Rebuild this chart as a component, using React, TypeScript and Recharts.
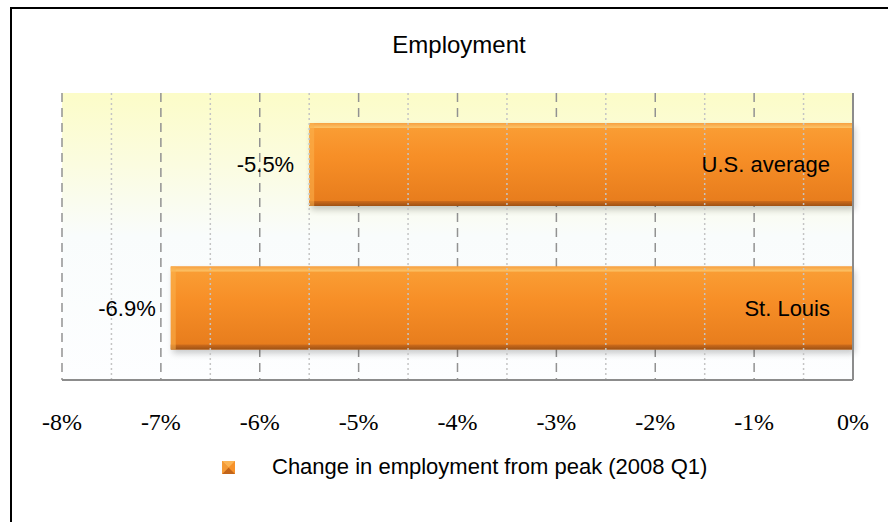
import {
  BarChart,
  Bar,
  XAxis,
  YAxis,
  CartesianGrid,
  ReferenceLine,
  LabelList,
  Legend,
} from "recharts";

const regions = ["U.S. average", "St. Louis"];
const changeFromPeak = [-5.5, -6.9];
const xTicks = [-8, -7, -6, -5, -4, -3, -2, -1, 0];
const minorTicks = [-7.5, -6.5, -5.5, -4.5, -3.5, -2.5, -1.5, -0.5];
const seriesName = "Change in employment from peak (2008 Q1)";

const data = regions.map((name, i) => ({ name, value: changeFromPeak[i] }));

const sans = "'Liberation Sans', Arial, sans-serif";
const serif = "'Liberation Serif', 'Times New Roman', serif";

// bar with a simple bevel + soft shadow, like the Excel style
const BevelBar = (props: any) => {
  const { x, y, width, height } = props;
  const left = Math.min(x, x + width);
  const w = Math.abs(width);
  return (
    <g>
      <rect x={left + 2} y={y + 4} width={w} height={height} fill="#000" opacity={0.2} filter="url(#blur)" />
      <rect x={left} y={y} width={w} height={height} fill="url(#barFill)" />
      <rect x={left} y={y} width={w} height={5} fill="url(#barTop)" />
      <rect x={left} y={y + height - 5} width={w} height={5} fill="url(#barBottom)" />
      <rect x={left} y={y} width={5} height={height} fill="#fbb24f" opacity={0.55} />
    </g>
  );
};

const ValueLabel = (props: any) => {
  const { x, y, width, height, value } = props;
  const left = Math.min(x, x + width);
  return (
    <text x={left - 15} y={y + height / 2} textAnchor="end" dominantBaseline="central" fontSize={22} fontFamily={sans} fill="#000">
      {`${Number(value).toFixed(1)}%`}
    </text>
  );
};

const NameLabel = (props: any) => {
  const { x, y, width, height, value } = props;
  const right = Math.max(x, x + width);
  return (
    <text x={right - 23} y={y + height / 2} textAnchor="end" dominantBaseline="central" fontSize={22} fontFamily={sans} fill="#000">
      {value}
    </text>
  );
};

const LegendBox = () => (
  <div style={{ position: "relative", width: 888, height: 74 }}>
    <svg width={13} height={13} style={{ position: "absolute", left: 222, top: 31 }}>
      <rect x={0} y={0} width={13} height={13} fill="#f7922a" />
      <polygon points="0,0 13,0 6.5,6.5" fill="#fbb455" />
      <polygon points="0,13 13,13 6.5,6.5" fill="#c2651a" />
      <polygon points="0,0 0,13 6.5,6.5" fill="#f39a36" />
    </svg>
    <span
      style={{
        position: "absolute",
        left: 272,
        top: 24,
        fontFamily: sans,
        fontSize: 22,
        lineHeight: "26px",
        color: "#000",
        whiteSpace: "nowrap",
      }}
    >
      {seriesName}
    </span>
  </div>
);

export default function App() {
  return (
    <div style={{ position: "absolute", left: 0, top: 0, width: 888, height: 522, overflow: "hidden", background: "#fff" }}>
      <div
        style={{
          position: "absolute",
          left: 10,
          top: 7,
          width: 920,
          height: 560,
          border: "2px solid #000",
          boxSizing: "border-box",
        }}
      />
      <div
        style={{
          position: "absolute",
          left: 0,
          top: 30,
          width: 918,
          textAlign: "center",
          fontFamily: sans,
          fontSize: 24,
          lineHeight: "30px",
          color: "#000",
        }}
      >
        Employment
      </div>
      <div style={{ position: "absolute", left: 0, top: 0 }}>
        <BarChart
          width={888}
          height={522}
          data={data}
          layout="vertical"
          margin={{ top: 93, right: 35, left: 62, bottom: 18 }}
        >
          <defs>
            <linearGradient id="plotBg" x1="0" y1="0" x2="0" y2="1">
              <stop offset="0%" stopColor="#fcfcc8" />
              <stop offset="25%" stopColor="#fbfce0" />
              <stop offset="50%" stopColor="#f9fcfc" />
              <stop offset="100%" stopColor="#fdfeff" />
            </linearGradient>
            <linearGradient id="barFill" x1="0" y1="0" x2="0" y2="1">
              <stop offset="0%" stopColor="#fa9f36" />
              <stop offset="40%" stopColor="#f78f27" />
              <stop offset="100%" stopColor="#e67b1c" />
            </linearGradient>
            <linearGradient id="barTop" x1="0" y1="0" x2="0" y2="1">
              <stop offset="0%" stopColor="#f7a040" />
              <stop offset="100%" stopColor="#fcc468" />
            </linearGradient>
            <linearGradient id="barBottom" x1="0" y1="0" x2="0" y2="1">
              <stop offset="0%" stopColor="#cf6c1b" />
              <stop offset="100%" stopColor="#9e5114" />
            </linearGradient>
            <filter id="blur" x="-10%" y="-20%" width="120%" height="150%">
              <feGaussianBlur stdDeviation="3" />
            </filter>
          </defs>
          <CartesianGrid
            horizontal={false}
            vertical={true}
            stroke="#929292"
            strokeWidth={1.5}
            strokeDasharray="9 6"
            fill="url(#plotBg)"
            fillOpacity={1}
          />
          {minorTicks.map((t) => (
            <ReferenceLine key={t} x={t} stroke="#c4c4c4" strokeWidth={1.5} strokeDasharray="2 3" />
          ))}
          <XAxis
            type="number"
            dataKey="value"
            domain={[-8, 0]}
            ticks={xTicks}
            interval={0}
            tickFormatter={(v: number) => `${v}%`}
            tickLine={false}
            tickSize={6}
            tickMargin={27}
            height={50}
            axisLine={{ stroke: "#8c8c8c", strokeWidth: 2 }}
            tick={{ fill: "#000", fontSize: 24, fontFamily: serif }}
          />
          <YAxis type="category" dataKey="name" hide />
          <Legend verticalAlign="bottom" content={() => <LegendBox />} wrapperStyle={{ left: 0, width: 888 }} />
          <Bar dataKey="value" name={seriesName} barSize={83} shape={<BevelBar />} isAnimationActive={false}>
            <LabelList dataKey="value" content={<ValueLabel />} />
            <LabelList dataKey="name" content={<NameLabel />} />
          </Bar>
          <ReferenceLine x={0} stroke="#8c8c8c" strokeWidth={2} />
        </BarChart>
      </div>
    </div>
  );
}
